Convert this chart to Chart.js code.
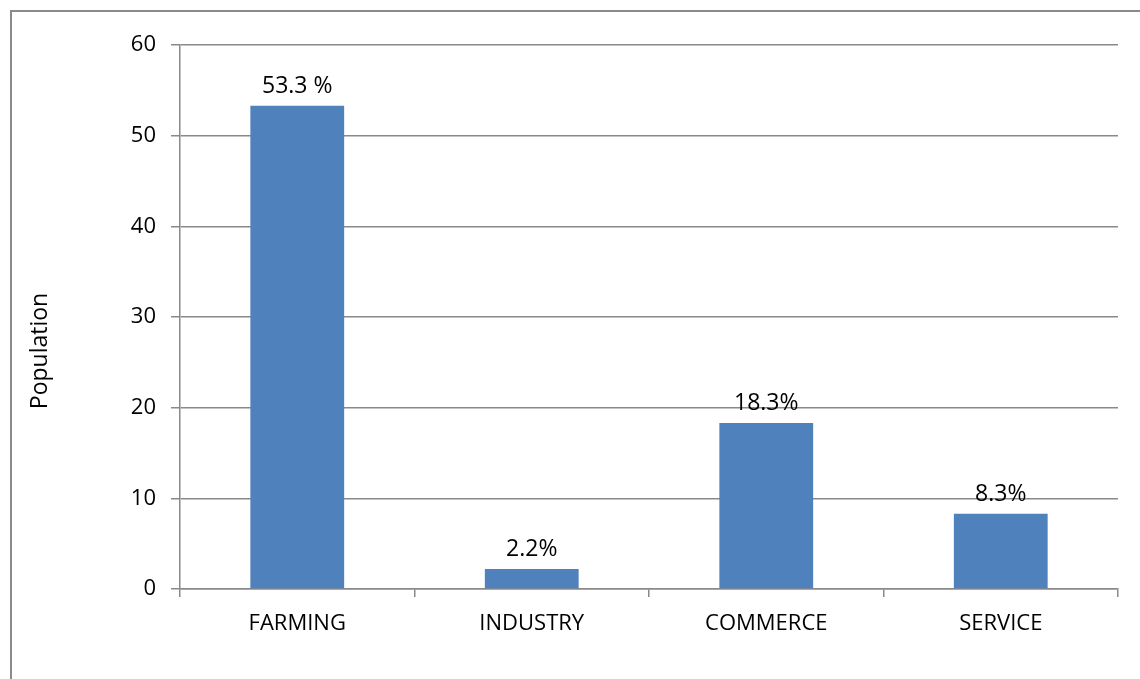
<!DOCTYPE html>
<html>
<head>
<meta charset="utf-8">
<script src="https://cdn.jsdelivr.net/npm/chart.js@4/dist/chart.umd.min.js"></script>
<style>
  html, body { margin: 0; padding: 0; background: #fff; }
  #wrap { width: 1140px; height: 679px; position: relative; }
</style>
</head>
<body>
<div id="wrap"><canvas id="chart" width="1140" height="679"></canvas></div>
<script>
var categories = ["FARMING", "INDUSTRY", "COMMERCE", "SERVICE"];
var population = [53.3, 2.2, 18.3, 8.3];
var valueLabels = ["53.3 %", "2.2%", "18.3%", "8.3%"];
var yTicks = [0, 10, 20, 30, 40, 50, 60];

var lineColor = "#898989";
var font = "'Open Sans', 'Liberation Sans', sans-serif";

// outer frame, y title and bar labels
var extras = {
  id: "extras",
  beforeDraw: function (chart) {
    var ctx = chart.ctx;
    ctx.save();
    ctx.fillStyle = "#fff";
    ctx.fillRect(0, 0, chart.width, chart.height);
    ctx.strokeStyle = "#8a8a8a";
    ctx.lineWidth = 2;
    ctx.beginPath();
    ctx.moveTo(11, chart.height + 2);
    ctx.lineTo(11, 11);
    ctx.lineTo(chart.width + 2, 11);
    ctx.stroke();
    ctx.restore();
  },
  afterDatasetsDraw: function (chart) {
    var ctx = chart.ctx;
    var meta = chart.getDatasetMeta(0);
    ctx.save();
    ctx.fillStyle = "#000";
    ctx.font = "23px " + font;
    ctx.textAlign = "center";
    ctx.textBaseline = "alphabetic";
    meta.data.forEach(function (bar, i) {
      ctx.fillText(valueLabels[i], bar.x, bar.y - 13);
    });
    ctx.translate(47, 351);
    ctx.rotate(-Math.PI / 2);
    ctx.fillText("Population", 0, 0);
    ctx.restore();
  }
};

new Chart(document.getElementById("chart"), {
  type: "bar",
  data: {
    labels: categories,
    datasets: [{
      data: population,
      backgroundColor: "#4f81bd",
      categoryPercentage: 1,
      barPercentage: 0.4
    }]
  },
  options: {
    responsive: false,
    animation: false,
    layout: { padding: { left: 0, top: 45, right: 22, bottom: 0 } },
    plugins: { legend: { display: false }, tooltip: { enabled: false } },
    scales: {
      x: {
        afterFit: function (s) { s.height = 90; },
        grid: { drawOnChartArea: false, drawTicks: true, tickLength: 8, color: lineColor, lineWidth: 1.5, offset: true },
        border: { color: lineColor, width: 1.5 },
        ticks: { color: "#000", padding: 14, font: { family: font, size: 22 } }
      },
      y: {
        min: 0,
        max: 60,
        afterFit: function (s) { s.width = 180; },
        afterBuildTicks: function (s) { s.ticks = yTicks.map(function (v) { return { value: v }; }); },
        grid: { color: lineColor, lineWidth: 1.5, tickLength: 9 },
        border: { color: lineColor, width: 1.5 },
        ticks: { color: "#000", padding: 15, font: { family: font, size: 22 } }
      }
    }
  },
  plugins: [extras]
});
</script>
</body>
</html>
